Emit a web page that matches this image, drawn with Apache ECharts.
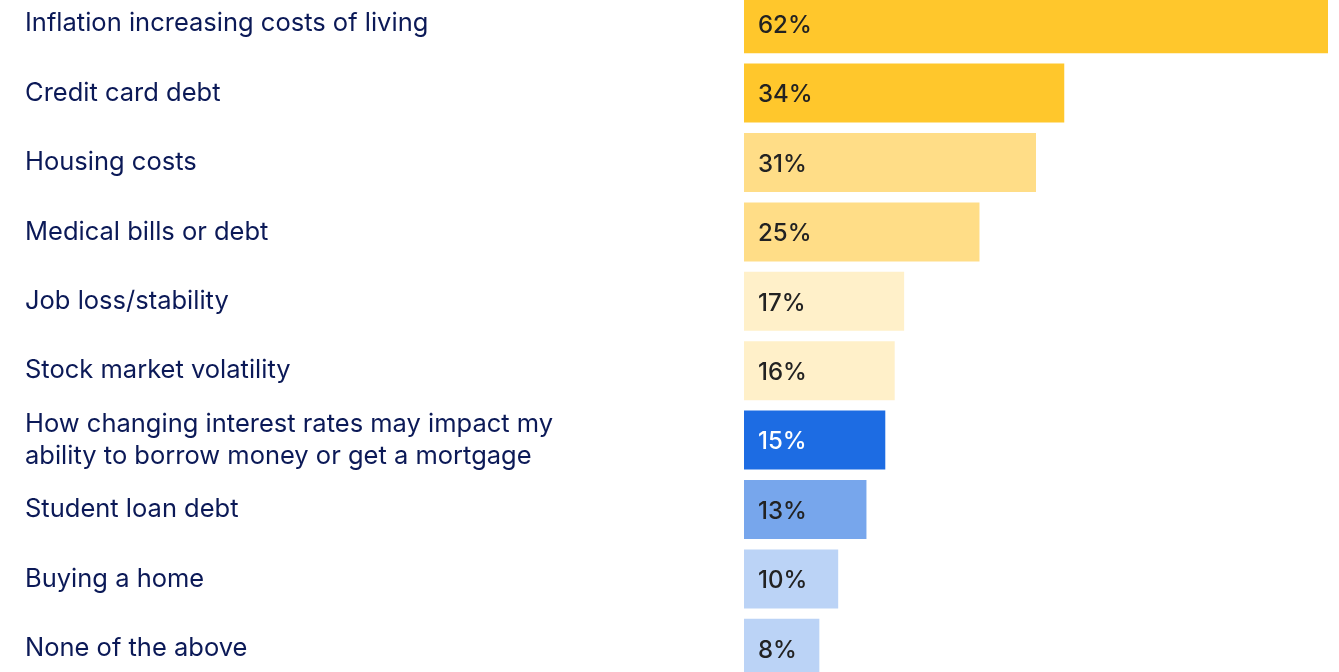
<!DOCTYPE html>
<html>
<head>
<meta charset="utf-8">
<title>Financial concerns</title>
<script src="https://cdn.jsdelivr.net/npm/echarts@6/dist/echarts.min.js"></script>
<style>
  html, body { margin: 0; padding: 0; background: #ffffff; overflow: hidden; width: 1339px; height: 672px; }
  /* the canvas extends past the top and bottom edges so the outer bars are cut off */
  #chart { position: absolute; left: 0; top: -11px; width: 1339px; height: 694px; }
</style>
</head>
<body>
<div id="chart"></div>
<script>
// Survey answers, top to bottom
const categories = [
  'Inflation increasing costs of living',
  'Credit card debt',
  'Housing costs',
  'Medical bills or debt',
  'Job loss/stability',
  'Stock market volatility',
  'How changing interest rates may impact my\nability to borrow money or get a mortgage',
  'Student loan debt',
  'Buying a home',
  'None of the above'
];
const values = [62, 34, 31, 25, 17, 16, 15, 13, 10, 8];
const barColors = [
  '#FFC72C', '#FFC72C',
  '#FFDD87', '#FFDD87',
  '#FFF0C9', '#FFF0C9',
  '#1D6CE3',
  '#77A6EC',
  '#BBD3F6', '#BBD3F6'
];
const labelColors = [
  '#222222', '#222222', '#222222', '#222222', '#222222',
  '#222222', '#ffffff', '#222222', '#222222', '#222222'
];

const chart = echarts.init(document.getElementById('chart'), null, { renderer: 'canvas' });

chart.setOption({
  animation: false,
  grid: { left: 744, right: 11, top: 0, bottom: 0, containLabel: false },
  xAxis: {
    type: 'value',
    min: 0,
    max: 62,
    show: false
  },
  yAxis: {
    type: 'category',
    inverse: true,
    data: categories,
    axisLine: { show: false },
    axisTick: { show: false },
    splitLine: { show: false },
    axisLabel: {
      align: 'left',
      margin: 719,
      color: '#0B1957',
      fontFamily: 'Inter, "Noto Sans", sans-serif',
      fontSize: 25.5,
      lineHeight: 32,
      padding: [6, 0, 0, 0]
    }
  },
  series: [{
    type: 'bar',
    barWidth: 59,
    data: values.map((v, i) => ({
      value: v,
      itemStyle: { color: barColors[i] },
      label: { color: labelColors[i] }
    })),
    label: {
      show: true,
      position: 'insideLeft',
      distance: 14,
      offset: [0, 2],
      formatter: '{c}%',
      fontFamily: 'Inter, "Noto Sans", sans-serif',
      fontSize: 24,
      fontWeight: 500
    }
  }]
});
</script>
</body>
</html>
